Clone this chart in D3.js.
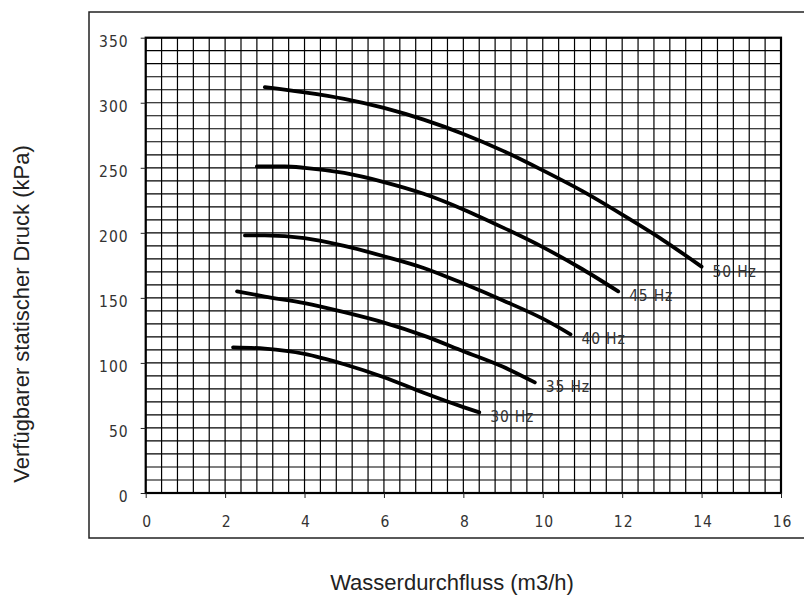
<!DOCTYPE html>
<html>
<head>
<meta charset="utf-8">
<script src="https://cdn.jsdelivr.net/npm/d3@7"></script>
<style>
  body { margin: 0; background: #fff; }
  .tick text { font-family: "Liberation Sans Narrow", "DejaVu Sans Condensed", sans-serif; font-size: 15.5px; fill: #333; letter-spacing: 1px; }
  .hz { font-family: "Liberation Sans Narrow", "DejaVu Sans Condensed", sans-serif; font-size: 15.5px; fill: #333; letter-spacing: 0.8px; }
  .title { font-family: "Liberation Sans", Arial, sans-serif; font-size: 22px; fill: #222; }
</style>
</head>
<body>
<svg id="svg" width="804" height="598"></svg>
<script>
// pump curves, flow (m3/h) vs available static pressure (kPa)
const hz50 = [[3, 312], [4, 308], [5, 303], [6, 296], [7, 287], [8, 276], [9, 263], [10, 248], [11, 232], [12, 214], [13, 195], [14, 174]];
const hz45 = [[2.8, 251], [3.5, 251], [4, 250], [5, 246], [6, 239], [7, 230], [8, 218], [9, 204], [10, 189], [11, 172], [11.9, 155]];
const hz40 = [[2.5, 198], [3, 198], [4, 196], [5, 190], [6, 182], [7, 173], [8, 161], [9, 148], [10, 134], [10.7, 122]];
const hz35 = [[2.3, 155], [3, 151], [4, 146], [5, 139], [6, 131], [7, 121], [8, 109], [9, 97], [9.8, 85]];
const hz30 = [[2.2, 112], [3, 111], [4, 107], [5, 99], [6, 89], [7, 77], [8, 66], [8.4, 62]];
const curves = [hz50, hz45, hz40, hz35, hz30];
const curveLabels = ["50 Hz", "45 Hz", "40 Hz", "35 Hz", "30 Hz"];

const xTicks = [0, 2, 4, 6, 8, 10, 12, 14, 16];
const yTicks = [0, 50, 100, 150, 200, 250, 300, 350];
const xGrid = d3.range(0, 16.001, 0.4);
const yGrid = d3.range(0, 350.001, 10);

var margin = {top: 37.7, right: 23, bottom: 105, left: 145.7};
var width = 804, height = 598;

var svg = d3.select("#svg");

var x = d3.scaleLinear()
  .domain([0, 16])
  .range([margin.left, width - margin.right]);

var y = d3.scaleLinear()
  .domain([0, 350])
  .range([height - margin.bottom, margin.top]);

// outer frame (runs off the right edge)
svg.append("rect")
    .attr("x", 89)
    .attr("y", 12)
    .attr("width", 730)
    .attr("height", 526)
    .attr("fill", "none")
    .attr("stroke", "#222")
    .attr("stroke-width", 1.5);

var grid = svg.append("g")
    .attr("stroke", "#000")
    .attr("stroke-width", 1.2);

grid.selectAll(".vx")
  .data(xGrid)
  .join("line")
    .attr("class", "vx")
    .attr("x1", d => x(d))
    .attr("x2", d => x(d))
    .attr("y1", y(0))
    .attr("y2", y(350));

grid.selectAll(".hy")
  .data(yGrid)
  .join("line")
    .attr("class", "hy")
    .attr("x1", x(0))
    .attr("x2", x(16))
    .attr("y1", d => y(d))
    .attr("y2", d => y(d));

svg.append("rect")
    .attr("x", x(0))
    .attr("y", y(350))
    .attr("width", x(16) - x(0))
    .attr("height", y(0) - y(350))
    .attr("fill", "none")
    .attr("stroke", "#000")
    .attr("stroke-width", 2.2);

var xAxis = svg.append("g")
    .attr("transform", "translate(0," + y(0) + ")")
    .call(d3.axisBottom(x).tickValues(xTicks).tickSize(5).tickPadding(18));
xAxis.select(".domain").remove();
xAxis.selectAll(".tick line").attr("stroke", "#222");

var yAxis = svg.append("g")
    .attr("transform", "translate(" + x(0) + ",0)")
    .call(d3.axisLeft(y).tickValues(yTicks).tickSize(5).tickPadding(12));
yAxis.select(".domain").remove();
yAxis.selectAll(".tick line").attr("stroke", "#222");
yAxis.selectAll(".tick text").attr("dy", "0.55em");
xAxis.selectAll(".tick text").attr("dx", "1px");

var line = d3.line()
  .x(d => x(d[0]))
  .y(d => y(d[1]))
  .curve(d3.curveMonotoneX);

svg.append("g")
  .selectAll("path")
  .data(curves)
  .join("path")
    .attr("d", line)
    .attr("fill", "none")
    .attr("stroke", "#000")
    .attr("stroke-width", 3.8)
    .attr("stroke-linecap", "round");

svg.append("g")
  .selectAll("text")
  .data(curves)
  .join("text")
    .attr("class", "hz")
    .attr("x", d => x(d[d.length - 1][0]) + 11)
    .attr("y", d => y(d[d.length - 1][1]) + 10)
    .text((d, i) => curveLabels[i]);

svg.append("text")
    .attr("class", "title")
    .attr("text-anchor", "middle")
    .attr("x", 452)
    .attr("y", 590)
    .text("Wasserdurchfluss (m3/h)");

svg.append("text")
    .attr("class", "title")
    .attr("text-anchor", "middle")
    .attr("transform", "translate(29,314) rotate(-90)")
    .text("Verfügbarer statischer Druck (kPa)");
</script>
</body>
</html>
